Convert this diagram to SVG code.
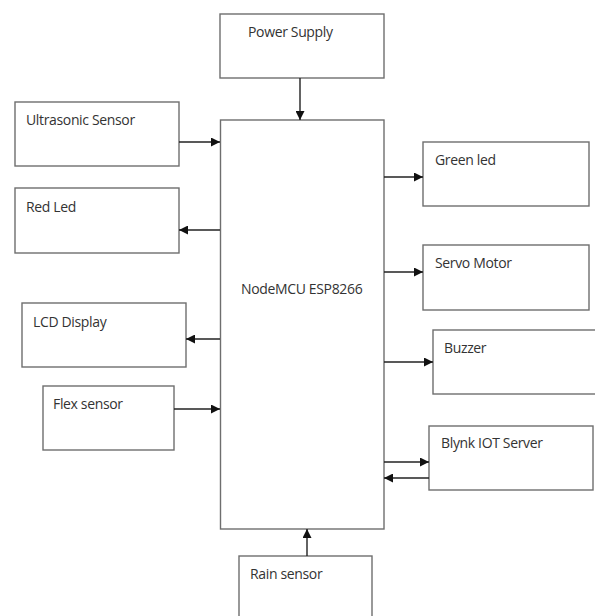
<svg xmlns="http://www.w3.org/2000/svg" width="595" height="616" viewBox="0 0 595 616">
<style>
.box{fill:#fff;stroke:#6e6e6e;stroke-width:1.4}
.lbl{font-family:"Open Sans","Liberation Sans",sans-serif;font-size:14px;fill:#333;letter-spacing:-0.35px}
.con{stroke:#222;stroke-width:1.4;fill:none}
</style>
<defs>
<marker id="ah" viewBox="0 0 10 10" refX="10" refY="5" markerWidth="9" markerHeight="9" markerUnits="userSpaceOnUse" orient="auto">
<path d="M0,0 L10,5 L0,10 z" fill="#111"/>
</marker>
</defs>
<rect width="595" height="616" fill="#fff"/>
<g id="power"><rect class="box" x="220" y="14" width="164" height="64"/><text class="lbl" x="248" y="37">Power Supply</text></g>
<g id="mcu"><rect class="box" x="220.5" y="120" width="163.5" height="409"/><text class="lbl" x="241" y="294">NodeMCU ESP8266</text></g>
<g id="ultrasonic"><rect class="box" x="15" y="102" width="164" height="64"/><text class="lbl" x="26" y="125">Ultrasonic Sensor</text></g>
<g id="redled"><rect class="box" x="15" y="188" width="164" height="65"/><text class="lbl" x="26" y="212">Red Led</text></g>
<g id="lcd"><rect class="box" x="22" y="303" width="164" height="64"/><text class="lbl" x="33" y="327">LCD Display</text></g>
<g id="flex"><rect class="box" x="43" y="386" width="131" height="64"/><text class="lbl" x="53" y="409">Flex sensor</text></g>
<g id="greenled"><rect class="box" x="423" y="142" width="166" height="64"/><text class="lbl" x="435" y="165">Green led</text></g>
<g id="servo"><rect class="box" x="423" y="245" width="166" height="65"/><text class="lbl" x="435" y="268">Servo Motor</text></g>
<g id="buzzer"><rect class="box" x="433" y="330" width="170" height="64"/><text class="lbl" x="444" y="353">Buzzer</text></g>
<g id="blynk"><rect class="box" x="429" y="426" width="164" height="64"/><text class="lbl" x="441" y="448">Blynk IOT Server</text></g>
<g id="rain"><rect class="box" x="239" y="556" width="133" height="70"/><text class="lbl" x="250" y="579">Rain sensor</text></g>
<g id="connectors">
<line class="con" x1="300" y1="78" x2="300" y2="120" marker-end="url(#ah)"/>
<line class="con" x1="179" y1="142" x2="220" y2="142" marker-end="url(#ah)"/>
<line class="con" x1="220" y1="230" x2="179" y2="230" marker-end="url(#ah)"/>
<line class="con" x1="220" y1="339" x2="186" y2="339" marker-end="url(#ah)"/>
<line class="con" x1="174" y1="409" x2="220" y2="409" marker-end="url(#ah)"/>
<line class="con" x1="384" y1="177" x2="423" y2="177" marker-end="url(#ah)"/>
<line class="con" x1="384" y1="272" x2="423" y2="272" marker-end="url(#ah)"/>
<line class="con" x1="384" y1="362" x2="433" y2="362" marker-end="url(#ah)"/>
<line class="con" x1="384" y1="462" x2="429" y2="462" marker-end="url(#ah)"/>
<line class="con" x1="429" y1="478" x2="384" y2="478" marker-end="url(#ah)"/>
<line class="con" x1="307" y1="556" x2="307" y2="529" marker-end="url(#ah)"/>
</g>
</svg>
